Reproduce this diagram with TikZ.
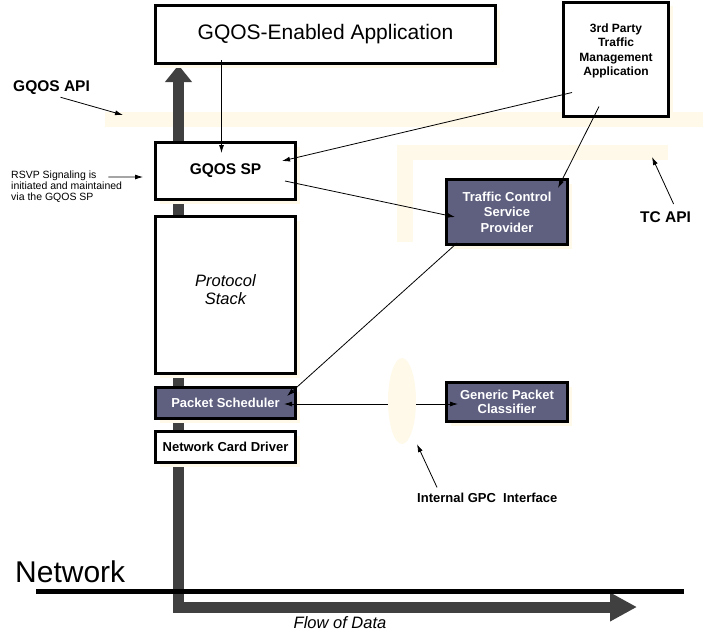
\documentclass[tikz,border=0pt]{standalone}
\usepackage{fontspec}
\setmainfont{Liberation Sans}
\usetikzlibrary{arrows.meta, calc, shapes.geometric, shadows}
\definecolor{cream}{HTML}{FFF9EA}
\definecolor{slate}{HTML}{5F6080}
\definecolor{flowgrey}{HTML}{404040}

\begin{document}
\begin{tikzpicture}[x=1pt, y=-1pt, >={Latex[length=8pt,width=5pt]},
  box/.style={draw, line width=3pt, fill=white, inner sep=0pt, align=center,
    drop shadow={shadow xshift=4pt, shadow yshift=-4pt, fill=cream, opacity=1}},
  tcbox/.style={box, fill=slate, text=white, font=\fontsize{13}{15.5}\selectfont\bfseries},
  band/.style={fill=cream, inner sep=0pt, outer sep=0pt},
  lbl/.style={anchor=base west, inner sep=0pt},
  conn/.style={->, line width=0.8pt},
  databar/.style={draw=flowgrey, line width=11pt, line join=miter}]
  \useasboundingbox (0,0) rectangle (703,630);
  % API bands
  \node[band, minimum width=598pt, minimum height=15pt] (apiband) at (404,119.5) {};
  \node[band, minimum width=271pt, minimum height=15pt] (tcband) at (532.5,152.5) {};
  \node[band, minimum width=16pt, minimum height=97pt] (tcbandv) at (405,193.5) {};
  % Flow of data: up to the application, right along the network
  \coordinate (flowtop) at (178.5,65);
  \coordinate (flowcorner) at (178.5,607);
  \coordinate (flowend) at (637,607);
  \draw[databar, {Triangle[length=17pt,width=26pt]}-{Triangle[length=27pt,width=27pt]}]
    (flowtop) -- (flowcorner) -- (flowend);
  % Network wire
  \draw[line width=5pt] (36,591.5) -- (684,591.5);
  % Boxes
  \node[box, minimum width=340pt, minimum height=58pt, font=\fontsize{21}{24}\selectfont] (app) at (325.5,34.5) {GQOS-Enabled Application};
  \node[box, minimum width=105pt, minimum height=114pt] (tpa) at (616,59) {};
  \node[align=center, font=\fontsize{12}{14.5}\selectfont\bfseries] (tpatext) at ($(tpa.center)+(0,-8)$) {3rd Party\\Traffic\\Management\\Application};
  \node[box, minimum width=140pt, minimum height=57pt, font=\fontsize{15.5}{18}\selectfont\bfseries] (gqossp) at (225.5,171) {GQOS SP};
  \node[box, minimum width=140pt, minimum height=157pt] (stack) at (225.5,295) {};
  \node[align=center, font=\fontsize{16.5}{18}\selectfont\itshape] (stacktext) at ($(stack.center)+(0,-5)$) {Protocol\\Stack};
  \node[tcbox, minimum width=140pt, minimum height=31pt] (sched) at (225.5,403) {Packet Scheduler};
  \node[box, minimum width=140pt, minimum height=31pt, font=\fontsize{13}{15}\selectfont\bfseries] (ncd) at (225.5,447) {Network Card Driver};
  \node[tcbox, minimum width=121pt, minimum height=65pt] (tcsp) at (507,212) {Traffic Control\\Service\\Provider};
  \node[tcbox, minimum width=121pt, minimum height=39pt, font=\fontsize{13}{14}\selectfont\bfseries] (gpc) at (507,402) {Generic Packet\\Classifier};
  % Labels
  \node[lbl, font=\fontsize{15.5}{18}\selectfont\bfseries] (apilbl) at (13,91) {GQOS API};
  \node[lbl, font=\fontsize{15.5}{18}\selectfont\bfseries] (tclbl) at (640,222) {TC API};
  \node[anchor=west, inner sep=0pt, align=left, font=\fontsize{10.5}{11}\selectfont] (rsvp) at (11,187) {RSVP Signaling is\\initiated and maintained\\via the GQOS SP};
  \node[lbl, font=\fontsize{13}{15}\selectfont\bfseries] (gpclbl) at (417,502) {Internal GPC~~Interface};
  \node[lbl, font=\fontsize{30}{34}\selectfont] (netlbl) at (15,582) {Network};
  \node[anchor=base, inner sep=0pt, font=\fontsize{16.5}{18}\selectfont\itshape] (flowlbl) at (340,628) {Flow of Data};
  % Connectors
  \draw[conn] ($(gqossp.north |- app.south)+(-4,-5)$) -- ($(gqossp.north)+(-4,12)$);
  \draw[conn] ($(tpa.south west)+(10,-25)$) -- ($(gqossp.east)+(-15,-10)$);
  \draw[conn] ($(tpa.south)+(-17,-11)$) -- ($(tcsp.north east)+(-11,10)$);
  \draw[conn] ($(gqossp.east)+(-12,10)$) -- ($(tcsp.west)+(10,5)$);
  \draw[conn] ($(tcsp.south west)+(12,-3)$) -- ($(sched.north east)+(-10,10)$);
  \draw[conn, <->] ($(sched.east)+(-13,1)$) -- ($(gpc.west)+(13,2)$);
  % GPC interface covers the line
  \node[ellipse, fill=cream, minimum width=28pt, minimum height=86pt, inner sep=0pt] (gpcif) at (402,401) {};
  % Label pointers
  \draw[conn] ($(apilbl.south)+(9,3)$) -- ($(apiband.west)+(18,-4.5)$);
  \draw[conn] ($(rsvp.north east)+(-14,6)$) -- ($(gqossp.west)+(-11,6)$);
  \draw[conn] ($(tclbl.north)+(8,-7)$) -- ($(tcband.south east)+(-16,-3)$);
  \draw[conn] ($(gpclbl.north west)+(20,-5)$) -- ($(gpcif.south)+(15,0)$);
\end{tikzpicture}
\end{document}
